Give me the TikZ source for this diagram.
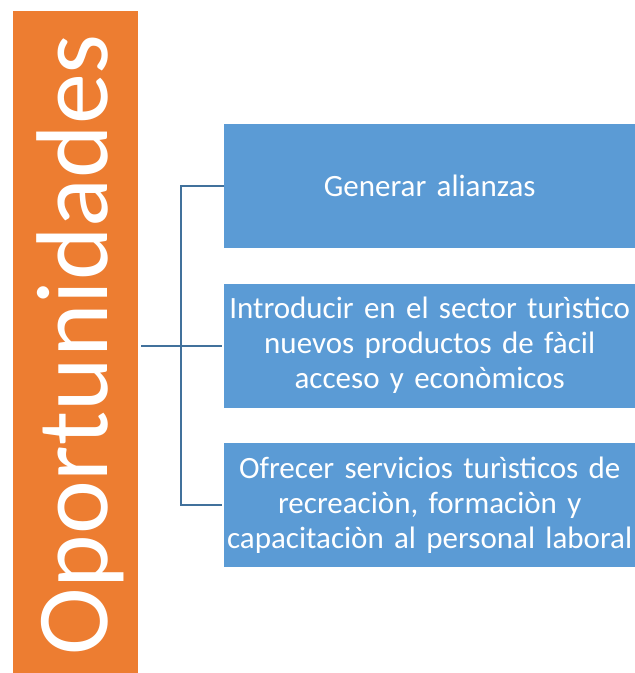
\documentclass[tikz,border=0pt]{standalone}
\usepackage{fontspec}
\setmainfont{Carlito}
\usetikzlibrary{positioning}
\definecolor{oporange}{HTML}{ED7D31}
\definecolor{opblue}{HTML}{5B9BD5}
\definecolor{opline}{HTML}{41719C}
\tikzset{x=1pt, y=-1pt, % one unit is one pixel of the page, y runs down
node distance=35pt, % gap between the boxes
box/.style={fill=opblue, text=white, minimum width=411pt, minimum height=124pt, text width=411pt, align=center, inner sep=0pt, font=\fontsize{31}{35}\selectfont}, % the three blue boxes
branch/.style={draw=opline, line width=2.2pt, shorten >=2pt}, % the bracket lines
}

\begin{document}
\begin{tikzpicture}
\useasboundingbox (0,0) rectangle (635,673);
\node[fill=oporange, minimum width=125.5pt, minimum height=662pt, inner sep=0pt, anchor=north west] (bar) at (12.5,11) {};
\node[rotate=90, anchor=base, text=white, font=\fontsize{102}{102}\selectfont] (title) at (107,345) {Oportunidades};
\node[box, anchor=north west] (alliances) at (224,124) {Generar alianzas};
\node[box, below=of alliances] (products) {Introducir en el sector turìstico\\nuevos productos de fàcil\\acceso y econòmicos};
\node[box, below=of products] (services) {Ofrecer servicios turìsticos de\\recreaciòn, formaciòn y\\capacitaciòn al personal laboral};
\coordinate (root) at (141,0);
\coordinate (fork) at (181,0);
\draw[branch] (root |- products.west) -- (products.west);
\draw[branch] (alliances.west) -- (fork |- alliances.west) -- (fork |- services.west) -- (services.west);
\end{tikzpicture}
\end{document}
